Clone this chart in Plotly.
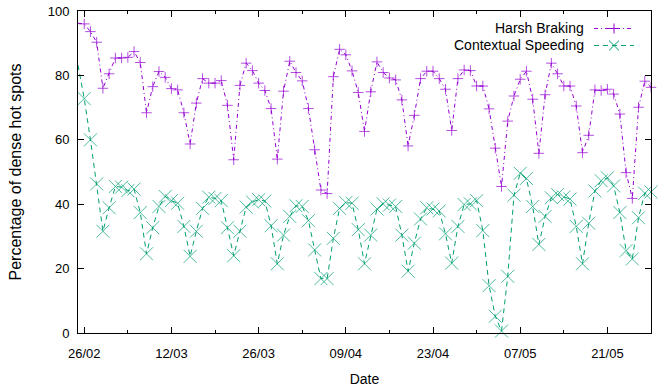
import pandas as pd
import plotly.graph_objects as go

# ---- data (daily, 25/02 .. 28/05/2015) ----
start_date = "2015-02-25"
end_date = "2015-05-28"
dates = pd.date_range(start_date, end_date, freq="D")

harsh_braking = [
    96.2,
    96.0, 93.6, 90.3, 76.0, 80.5, 85.4, 85.4, 85.6, 87.4, 84.0,
    68.4, 76.5, 81.2, 79.4, 75.9, 75.5, 68.4, 58.7, 71.4, 79.0,
    77.6, 77.6, 78.4, 70.7, 53.8, 76.9, 83.8, 81.5, 77.6, 75.3,
    69.7, 54.0, 75.1, 84.4, 80.9, 78.3, 69.7, 56.9, 44.4, 43.3,
    79.6, 88.1, 86.4, 81.4, 74.7, 62.6, 74.9, 84.2, 80.9, 79.2,
    78.6, 72.4, 58.1, 67.6, 79.0, 81.3, 81.3, 79.0, 75.7, 62.9,
    79.0, 81.7, 81.5, 76.7, 76.7, 69.6, 57.4, 45.5, 65.8, 73.6,
    78.8, 81.3, 72.6, 55.8, 74.0, 83.8, 80.5, 76.7, 76.7, 70.5,
    56.0, 61.4, 75.5, 75.3, 75.7, 74.2, 68.0, 49.8, 41.8, 70.1,
    78.2, 76.3,
]

contextual_speeding = [
    83.2,
    72.8, 60.0, 46.3, 31.6, 38.9, 45.5, 45.3, 44.2, 44.7, 37.4,
    24.6, 32.7, 39.3, 42.4, 41.1, 40.3, 33.1, 23.8, 31.6, 38.7,
    42.2, 41.8, 41.1, 32.7, 24.0, 31.6, 39.1, 40.7, 41.4, 41.0,
    33.3, 21.5, 30.4, 36.2, 39.5, 39.3, 34.9, 25.8, 16.9, 16.9,
    29.4, 38.7, 40.5, 40.3, 32.1, 21.5, 30.4, 38.5, 40.1, 39.7,
    39.3, 30.4, 19.2, 27.9, 35.4, 38.9, 38.5, 37.9, 30.8, 21.7,
    33.1, 39.9, 40.1, 41.1, 31.8, 14.7, 5.2, 0.6, 17.6, 42.8,
    49.6, 48.0, 39.3, 27.5, 36.2, 42.0, 43.0, 42.2, 41.6, 33.1,
    21.5, 34.1, 44.1, 47.3, 48.2, 45.7, 37.4, 25.6, 23.0, 35.8,
    43.4, 43.8,
]

series_names = ["Harsh Braking", "Contextual Speeding"]
x_tick_start = "2015-02-26"
x_title = "Date"
y_title = "Percentage of dense hot spots"
y_ticks = [0, 20, 40, 60, 80, 100]

# ---- styling ----
PURPLE = "#9400D3"
GREEN = "#009E73"
FONT = "Liberation Sans"
DAY_MS = 86400000

# first point (25/02) lies on the left border: line only, no marker
n = len(dates)
cross_sizes = [0] + [7.5] * (n - 1)
x_sizes = [0] + [13] * (n - 1)

fig = go.Figure()
fig.add_trace(go.Scatter(
    x=dates, y=harsh_braking, name=series_names[0], mode="lines+markers",
    line=dict(color=PURPLE, width=1, dash="4px,3px,1px,3px"),
    marker=dict(symbol="cross-thin-open", size=cross_sizes,
                line=dict(color=PURPLE, width=1)),
    cliponaxis=False, showlegend=False,
))
fig.add_trace(go.Scatter(
    x=dates, y=contextual_speeding, name=series_names[1], mode="lines+markers",
    line=dict(color=GREEN, width=1, dash="5px,4px"),
    marker=dict(symbol="x-thin-open", size=x_sizes,
                line=dict(color=GREEN, width=1)),
    cliponaxis=False, showlegend=False,
))

# ---- custom gnuplot-style legend (text, then sample) ----
L, R, T, B = 77.7, 651.0, 11.0, 333.3
def px(xp):
    return (xp - L) / (R - L)
def py(yp):
    return (B - yp) / (B - T)

legend_rows = [
    (series_names[0], 28.5, PURPLE, "4px,3px,1px,3px", "plus"),
    (series_names[1], 45.5, GREEN, "5px,4px", "x"),
]
for label, yc, col, dash, mk in legend_rows:
    fig.add_annotation(
        x=px(586), y=py(yc), xref="paper", yref="paper", text=label,
        showarrow=False, xanchor="right", yanchor="middle",
        font=dict(family=FONT, size=14, color="black"),
    )
    fig.add_shape(type="line", xref="paper", yref="paper",
                  x0=px(594), x1=px(634), y0=py(yc), y1=py(yc),
                  line=dict(color=col, width=1, dash=dash))
    cx = 614
    if mk == "plus":
        fig.add_shape(type="line", xref="paper", yref="paper",
                      x0=px(cx - 5), x1=px(cx + 5), y0=py(yc), y1=py(yc),
                      line=dict(color=col, width=1))
        fig.add_shape(type="line", xref="paper", yref="paper",
                      x0=px(cx), x1=px(cx), y0=py(yc - 5), y1=py(yc + 5),
                      line=dict(color=col, width=1))
    else:
        fig.add_shape(type="line", xref="paper", yref="paper",
                      x0=px(cx - 5), x1=px(cx + 5), y0=py(yc - 5), y1=py(yc + 5),
                      line=dict(color=col, width=1))
        fig.add_shape(type="line", xref="paper", yref="paper",
                      x0=px(cx - 5), x1=px(cx + 5), y0=py(yc + 5), y1=py(yc - 5),
                      line=dict(color=col, width=1))

fig.update_layout(
    width=665, height=389,
    margin=dict(l=L, r=665 - R, t=T, b=389 - B, pad=0),
    paper_bgcolor="white", plot_bgcolor="white",
    font=dict(family=FONT, size=13, color="black"),
    showlegend=False,
)
fig.update_xaxes(
    type="date", range=[start_date, end_date],
    tick0=x_tick_start, dtick=14 * DAY_MS, tickformat="%d/%m",
    ticks="inside", ticklen=6, tickwidth=1, tickcolor="black",
    minor=dict(ticks="inside", ticklen=3, tickwidth=1, tickcolor="black",
               dtick=7 * DAY_MS, tick0=x_tick_start, showgrid=False),
    showline=True, linecolor="black", linewidth=1, mirror="ticks",
    showgrid=False, zeroline=False, automargin=False,
    ticklabelstandoff=8,
    tickfont=dict(family=FONT, size=13),
    title=dict(text=x_title, font=dict(family=FONT, size=14), standoff=14),
)
fig.update_yaxes(
    range=[0, 100], tickvals=y_ticks,
    ticks="inside", ticklen=6, tickwidth=1, tickcolor="black",
    showline=True, linecolor="black", linewidth=1, mirror="ticks",
    showgrid=False, zeroline=False, automargin=False,
    ticklabelstandoff=5,
    tickfont=dict(family=FONT, size=13),
    title=dict(text=y_title, font=dict(family=FONT, size=16), standoff=22),
)

fig.write_html(
    "out.html",
    config={"displayModeBar": False},
    post_script="document.body.style.margin='0px';document.body.style.overflow='hidden';",
)
